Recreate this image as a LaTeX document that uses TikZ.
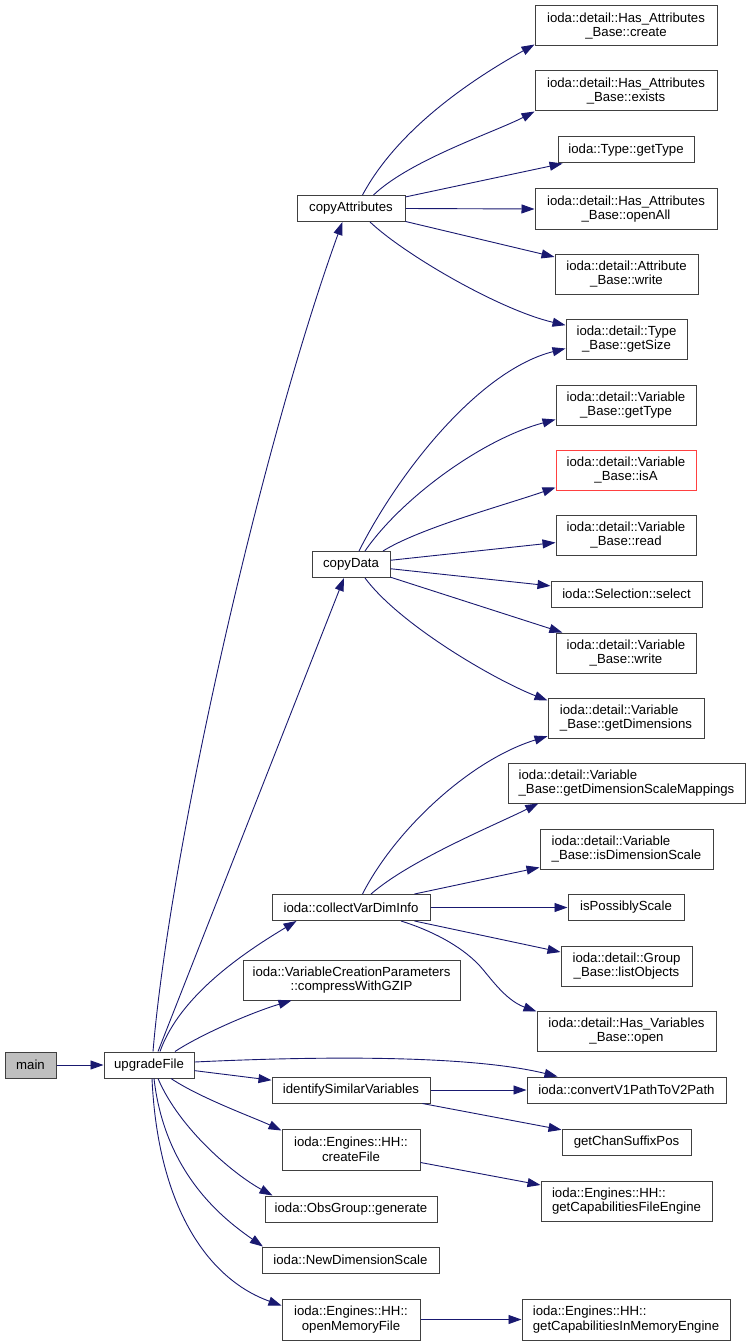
\documentclass[tikz,border=0pt]{standalone}
\usepackage{fontspec}
\setmainfont{Liberation Sans}
\usetikzlibrary{arrows.meta}
\definecolor{edgeblue}{HTML}{191970}
\definecolor{nodeborder}{HTML}{404040}
\definecolor{mainfill}{HTML}{BFBFBF}
\definecolor{redborder}{HTML}{FF4040}
\tikzset{
  fn/.style={draw=nodeborder, line width=1pt, fill=white, inner sep=0pt, font=\fontsize{13.2}{14.7}\selectfont, align=center, minimum height=26pt},
  fntwo/.style={fn, minimum height=40pt},
  fnleft/.style={fn, minimum height=40pt, align=left},
  mainbox/.style={fn, fill=mainfill},
  redbox/.style={fntwo, draw=redborder},
  call/.style={draw=edgeblue, line width=0.9pt, -{Triangle[length=13pt,width=9pt]}, fill=none},
}
\begin{document}
\begin{tikzpicture}[x=1pt, y=-1pt]
\useasboundingbox (0,0) rectangle (747,1343);
% left / middle column
\node[mainbox, minimum width=51pt] (main) at (30.5,1065) {main};
\node[fn, minimum width=90pt] (uf) at (149,1065) {upgradeFile};
\node[fn, minimum width=108pt] (ca) at (351,208.5) {copyAttributes};
\node[fn, minimum width=78pt] (cd) at (351,564.5) {copyData};
\node[fn, minimum width=158pt] (cv) at (351,907.5) {ioda::collectVarDimInfo};
\node[fntwo, minimum width=217pt] (comp) at (351.5,980) {ioda::VariableCreationParameters\\::compressWithGZIP};
\node[fn, minimum width=158pt] (isv) at (351,1090) {identifySimilarVariables};
\node[fntwo, minimum width=138pt, minimum height=41pt] (cf) at (351,1149.5) {ioda::Engines::HH::\\createFile};
\node[fn, minimum width=172pt] (gen) at (351,1209) {ioda::ObsGroup::generate};
\node[fn, minimum width=177pt] (nds) at (350.5,1260) {ioda::NewDimensionScale};
\node[fntwo, minimum width=138pt, minimum height=41pt] (omf) at (351,1319.5) {ioda::Engines::HH::\\openMemoryFile};
% right column
\node[fntwo, minimum width=182pt] (hac) at (626,26) {ioda::detail::Has\_Attributes\\\_Base::create};
\node[fntwo, minimum width=182pt] (hae) at (626,91) {ioda::detail::Has\_Attributes\\\_Base::exists};
\node[fn, minimum width=136pt] (gt) at (626,150) {ioda::Type::getType};
\node[fntwo, minimum width=182pt] (hao) at (626,209) {ioda::detail::Has\_Attributes\\\_Base::openAll};
\node[fntwo, minimum width=143pt] (aw) at (626.5,274) {ioda::detail::Attribute\\\_Base::write};
\node[fntwo, minimum width=121pt] (gs) at (626.5,339) {ioda::detail::Type\\\_Base::getSize};
\node[fntwo, minimum width=140pt] (vgt) at (626,405) {ioda::detail::Variable\\\_Base::getType};
\node[redbox, minimum width=140pt] (isa) at (626,470) {ioda::detail::Variable\\\_Base::isA};
\node[fntwo, minimum width=140pt] (rd) at (626,535) {ioda::detail::Variable\\\_Base::read};
\node[fn, minimum width=151pt] (sel) at (626.5,594) {ioda::Selection::select};
\node[fntwo, minimum width=140pt] (vw) at (626,653) {ioda::detail::Variable\\\_Base::write};
\node[fnleft, minimum width=156pt] (gd) at (626,718) {ioda::detail::Variable\\\_Base::getDimensions};
\node[fnleft, minimum width=237pt] (gdsm) at (626.5,783) {ioda::detail::Variable\\\_Base::getDimensionScaleMappings};
\node[fnleft, minimum width=173pt] (ids) at (626.5,849) {ioda::detail::Variable\\\_Base::isDimensionScale};
\node[fn, minimum width=116pt] (ips) at (626,907.5) {isPossiblyScale};
\node[fntwo, minimum width=131pt] (lo) at (626.5,966) {ioda::detail::Group\\\_Base::listObjects};
\node[fntwo, minimum width=179pt] (hvo) at (626.5,1031) {ioda::detail::Has\_Variables\\\_Base::open};
\node[fn, minimum width=199pt] (conv) at (626.5,1090) {ioda::convertV1PathToV2Path};
\node[fn, minimum width=129pt] (gcsp) at (626.5,1142) {getChanSuffixPos};
\node[fnleft, minimum width=171pt] (gcfe) at (626.5,1201) {ioda::Engines::HH::\\getCapabilitiesFileEngine};
\node[fnleft, minimum width=208pt, minimum height=41pt] (gcime) at (626,1319.5) {ioda::Engines::HH::\\getCapabilitiesInMemoryEngine};
% edges from copyAttributes
\draw[call] ([xshift=11.5pt]ca.north) .. controls (400,125) and (480,75) .. ([yshift=2pt]hac.south west);
\draw[call] ([xshift=22.5pt]ca.north) .. controls (410,160) and (495,132) .. (hae.south west);
\draw[call] (ca) -- (gt);
\draw[call] (ca.east) -- (hao.west);
\draw[call] (ca) -- (aw);
\draw[call] ([xshift=19pt]ca.south) .. controls (405,255) and (500,310) .. ([yshift=-6.7pt]gs.north west);
% edges from copyData
\draw[call] ([xshift=8pt]cd.north) .. controls (400,470) and (480,370) .. ([yshift=11pt]gs.south west);
\draw[call] ([xshift=14pt]cd.north) .. controls (400,500) and (480,440) .. ([yshift=6pt]vgt.south west);
\draw[call] ([xshift=32pt]cd.north) .. controls (420,528) and (505,505) .. ([yshift=3pt]isa.south west);
\draw[call] (cd) -- (rd);
\draw[call] (cd) -- (sel);
\draw[call] (cd) -- (vw);
\draw[call] ([xshift=14pt]cd.south) .. controls (400,625) and (495,680) .. ([yshift=-3pt]gd.north west);
% edges from collectVarDimInfo
\draw[call] ([xshift=11.5pt]cv.north) .. controls (395,830) and (470,760) .. ([yshift=2.3pt]gd.south west);
\draw[call] ([xshift=20pt]cv.north) .. controls (410,860) and (495,825) .. ([xshift=30.8pt]gdsm.south west);
\draw[call] (cv) -- (ids);
\draw[call] (cv) -- (ips);
\draw[call] (cv) -- (lo);
\draw[call] ([xshift=50pt]cv.south) .. controls (430,930) and (460,945) .. (479,965) .. controls (490,977) and (505,1000) .. ([yshift=-1pt]hvo.north west);
% edges from upgradeFile
\draw[call] (main) -- (uf);
\draw[call] ([xshift=4pt]uf.north) .. controls (170,850) and (260,450) .. ([xshift=-8.6pt]ca.south);
\draw[call] ([xshift=9pt]uf.north) -- ([xshift=-7pt]cd.south);
\draw[call] ([xshift=11pt]uf.north) .. controls (180,995) and (245,952) .. ([xshift=25pt]cv.south west);
\draw[call] ([xshift=26pt]uf.north) .. controls (200,1035) and (250,1013) .. ([xshift=49pt]comp.south west);
\draw[call] ([yshift=3pt]uf.east) .. controls (320,1056) and (470,1055) .. ([xshift=31pt]conv.north west);
\draw[call] (uf) -- (isv);
\draw[call] (isv) -- (conv);
\draw[call] (isv) -- (gcsp);
\draw[call] ([xshift=22pt]uf.south) .. controls (200,1098) and (255,1118) .. ([yshift=-2pt]cf.north west);
\draw[call] (cf) -- (gcfe);
\draw[call] ([xshift=9pt]uf.south) .. controls (180,1130) and (235,1175) .. ([xshift=8pt]gen.north west);
\draw[call] ([xshift=5pt]uf.south) .. controls (165,1175) and (225,1220) .. ([xshift=1.4pt]nds.north west);
\draw[call] ([xshift=3pt]uf.south) .. controls (158,1210) and (210,1280) .. ([yshift=-7pt]omf.north west);
\draw[call] (omf) -- (gcime);
\end{tikzpicture}
\end{document}
